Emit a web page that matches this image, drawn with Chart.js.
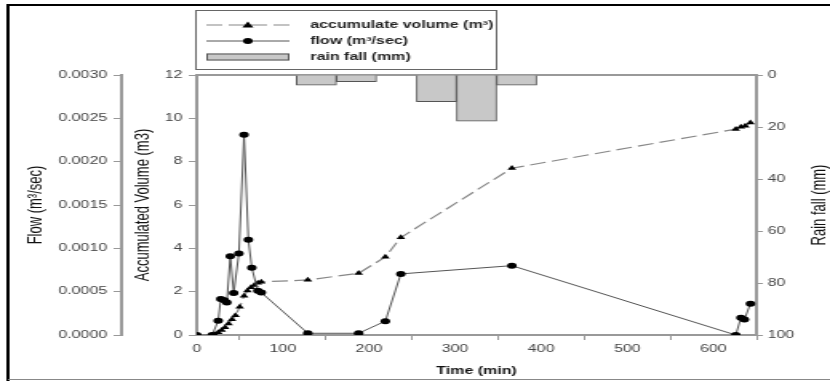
<!DOCTYPE html>
<html>
<head>
<meta charset="utf-8">
<script src="https://cdn.jsdelivr.net/npm/chart.js@4/dist/chart.umd.min.js"></script>
<style>
  html, body { margin: 0; padding: 0; background: #fff; }
</style>
</head>
<body>
<!-- drawn narrow and stretched sideways, like the source figure -->
<canvas id="chart" width="519" height="381" style="width:830px;height:381px"></canvas>
<script>
Chart.defaults.font.family = "'Liberation Sans', Arial, sans-serif";
Chart.defaults.color = '#444';

// flow (m3/sec) against time (min)
const flowTime = [0, 18, 25, 28, 32, 35, 39, 43, 49, 55, 60, 64, 71, 75, 129, 188, 219, 237, 366, 626, 632, 636, 643];
const flowRate = [0, 0, 0.000165, 0.000415, 0.0004, 0.000375, 0.00091, 0.000485, 0.00094, 0.00231, 0.0011, 0.000775,
    0.00051, 0.00049, 0.00002, 0.00002, 0.00016, 0.000705, 0.0008, 0, 0.0002, 0.00018, 0.00036];

// accumulated volume (m3)
const volTime = [18, 21, 25, 29, 33, 37, 41, 45, 50, 55, 59, 63, 67, 71, 75, 129, 188, 219, 237, 366, 626, 632, 637, 643];
const volume = [0, 0.03, 0.12, 0.22, 0.35, 0.52, 0.72, 0.9, 1.3, 1.8, 2.05, 2.2, 2.3, 2.4, 2.45, 2.54, 2.85, 3.6, 4.5,
    7.7, 9.5, 9.6, 9.65, 9.8];

// rain fall (mm), bar centres in min
const rainTime = [139, 185.5, 232, 278.5, 325, 371.5];
const rainDepth = [3.9, 2.6, 0, 10.3, 17.8, 3.9];

// tick labels
const timeTicks = [0, 100, 200, 300, 400, 500, 600];
const flowTicks = [0, 0.0005, 0.001, 0.0015, 0.002, 0.0025, 0.003];
const volTicks = [0, 2, 4, 6, 8, 10, 12];
const rainTicks = [0, 20, 40, 60, 80, 100];

const pts = (xs, ys) => xs.map((x, i) => ({ x: x, y: ys[i] }));
const setTicks = list => scale => { scale.ticks = list.map(v => ({ value: v })); };

const axisGray = '#999';
const titleColor = '#111';

// outer frame, the reversed rain title and the boxed legend
const decorations = {
    id: 'decorations',
    beforeDraw(chart) {
        const ctx = chart.ctx;
        ctx.save();
        ctx.fillStyle = '#fff';
        ctx.fillRect(0, 0, chart.width, chart.height);
        ctx.restore();
    },
    afterDraw(chart) {
        const ctx = chart.ctx;
        const area = chart.chartArea;
        const ds = chart.data.datasets;
        ctx.save();

        ctx.strokeStyle = '#000';
        ctx.lineWidth = 2;
        ctx.beginPath();
        ctx.moveTo(5, 381);
        ctx.lineTo(5, 5);
        ctx.lineTo(chart.width, 5);
        ctx.stroke();
        ctx.strokeStyle = '#888';
        ctx.lineWidth = 1;
        ctx.beginPath();
        ctx.moveTo(5, 379.5);
        ctx.lineTo(chart.width, 379.5);
        ctx.stroke();

        // rain fall title reads bottom to top like the left ones
        ctx.save();
        ctx.translate(512, (area.top + area.bottom) / 2);
        ctx.rotate(-Math.PI / 2);
        ctx.font = "13px 'Liberation Sans', Arial, sans-serif";
        ctx.fillStyle = titleColor;
        ctx.textAlign = 'center';
        ctx.textBaseline = 'middle';
        ctx.fillText('Rain fall (mm)', 0, 0);
        ctx.restore();

        // legend
        ctx.strokeStyle = '#666';
        ctx.lineWidth = 1;
        ctx.strokeRect(122.5, 10.5, 188, 59);

        const x0 = 129, x1 = 181, xm = 155, xt = 194;
        ctx.font = "bold 10px 'Liberation Sans', Arial, sans-serif";
        ctx.textBaseline = 'middle';
        ctx.textAlign = 'left';

        // volume
        let y = 25;
        ctx.strokeStyle = ds[1].borderColor;
        ctx.lineWidth = ds[1].borderWidth;
        ctx.setLineDash(ds[1].borderDash);
        ctx.beginPath();
        ctx.moveTo(x0, y);
        ctx.lineTo(x1, y);
        ctx.stroke();
        ctx.setLineDash([]);
        ctx.fillStyle = '#000';
        ctx.beginPath();
        ctx.moveTo(xm, y - 3.5);
        ctx.lineTo(xm + 3.5, y + 2.5);
        ctx.lineTo(xm - 3.5, y + 2.5);
        ctx.closePath();
        ctx.fill();
        ctx.fillStyle = '#222';
        ctx.fillText(ds[1].label, xt, y);

        // flow
        y = 41;
        ctx.strokeStyle = ds[0].borderColor;
        ctx.lineWidth = ds[0].borderWidth;
        ctx.beginPath();
        ctx.moveTo(x0, y);
        ctx.lineTo(x1, y);
        ctx.stroke();
        ctx.fillStyle = '#000';
        ctx.beginPath();
        ctx.arc(xm, y, 3, 0, Math.PI * 2);
        ctx.fill();
        ctx.fillStyle = '#222';
        ctx.fillText(ds[0].label, xt, y);

        // rain
        y = 57;
        ctx.fillStyle = ds[2].backgroundColor;
        ctx.fillRect(x0, y - 3.5, x1 - x0, 7);
        ctx.strokeStyle = ds[2].borderColor;
        ctx.strokeRect(x0 + 0.5, y - 3, x1 - x0 - 1, 6);
        ctx.fillStyle = '#222';
        ctx.fillText(ds[2].label, xt, y);

        ctx.restore();
    }
};

new Chart(document.getElementById('chart'), {
    type: 'line',
    data: {
        datasets: [
            {
                label: 'flow (m³/sec)',
                data: pts(flowTime, flowRate),
                yAxisID: 'yFlow',
                borderColor: '#555',
                borderWidth: 1,
                pointStyle: 'circle',
                pointRadius: 3,
                pointBorderWidth: 0,
                pointBackgroundColor: '#000',
                tension: 0,
                order: 1
            },
            {
                label: 'accumulate volume (m³)',
                data: pts(volTime, volume),
                yAxisID: 'yVol',
                borderColor: '#888',
                borderWidth: 1.2,
                borderDash: [10, 4],
                pointStyle: 'triangle',
                pointRadius: 3.2,
                pointBorderWidth: 0,
                pointBackgroundColor: '#000',
                tension: 0,
                order: 2
            },
            {
                type: 'bar',
                label: 'rain fall (mm)',
                data: pts(rainTime, rainDepth),
                yAxisID: 'yRain',
                backgroundColor: '#c8c8c8',
                borderColor: '#555',
                borderWidth: 1,
                barPercentage: 1,
                categoryPercentage: 1,
                order: 3
            }
        ]
    },
    options: {
        responsive: false,
        animation: false,
        devicePixelRatio: 1,
        layout: { padding: { left: 8, top: 75, right: 0, bottom: 0 } },
        plugins: {
            legend: { display: false },
            tooltip: { enabled: false }
        },
        scales: {
            x: {
                type: 'linear',
                position: 'bottom',
                min: 0,
                max: 650,
                offset: false,
                afterBuildTicks: setTicks(timeTicks),
                afterFit: s => { s.height = 46; },
                ticks: { padding: 3, font: { size: 10 }, maxRotation: 0 },
                grid: { drawOnChartArea: false, tickLength: 5, color: axisGray },
                border: { color: axisGray, width: 2 },
                title: {
                    display: true,
                    text: 'Time (min)',
                    color: titleColor,
                    font: { size: 10, weight: 'bold' },
                    padding: { top: 0, bottom: 4 }
                }
            },
            xTop: {
                type: 'linear',
                position: 'top',
                min: 0,
                max: 650,
                ticks: { display: false },
                grid: { display: false },
                border: { color: axisGray, width: 2 },
                afterFit: s => { s.height = 0; }
            },
            yFlow: {
                type: 'linear',
                position: 'left',
                weight: 10,
                min: 0,
                max: 0.003,
                afterBuildTicks: setTicks(flowTicks),
                afterFit: s => { s.width = 68; },
                ticks: { padding: 4, font: { size: 10 }, callback: v => v.toFixed(4) },
                grid: { drawOnChartArea: false, tickLength: 5, color: axisGray },
                border: { color: axisGray, width: 2 },
                title: {
                    display: true,
                    text: 'Flow (m³/sec)',
                    color: titleColor,
                    font: { size: 13 },
                    padding: { top: 6.5, bottom: 0 }
                }
            },
            yVol: {
                type: 'linear',
                position: 'left',
                weight: 0,
                min: 0,
                max: 12,
                afterBuildTicks: setTicks(volTicks),
                afterFit: s => { s.width = 47; },
                ticks: { padding: 4, font: { size: 10 } },
                grid: { drawOnChartArea: false, tickLength: 5, color: axisGray },
                border: { color: axisGray, width: 2 },
                title: {
                    display: true,
                    text: 'Accumulated Volume (m3)',
                    color: titleColor,
                    font: { size: 13 },
                    padding: { top: 5.2, bottom: 0 }
                }
            },
            yRain: {
                type: 'linear',
                position: 'right',
                reverse: true,
                min: 0,
                max: 100,
                afterBuildTicks: setTicks(rainTicks),
                afterFit: s => { s.width = 46; },
                ticks: { padding: 3, font: { size: 10 } },
                grid: { drawOnChartArea: false, tickLength: 4, color: axisGray },
                border: { color: axisGray, width: 2 }
            }
        }
    },
    plugins: [decorations]
});
</script>
</body>
</html>
